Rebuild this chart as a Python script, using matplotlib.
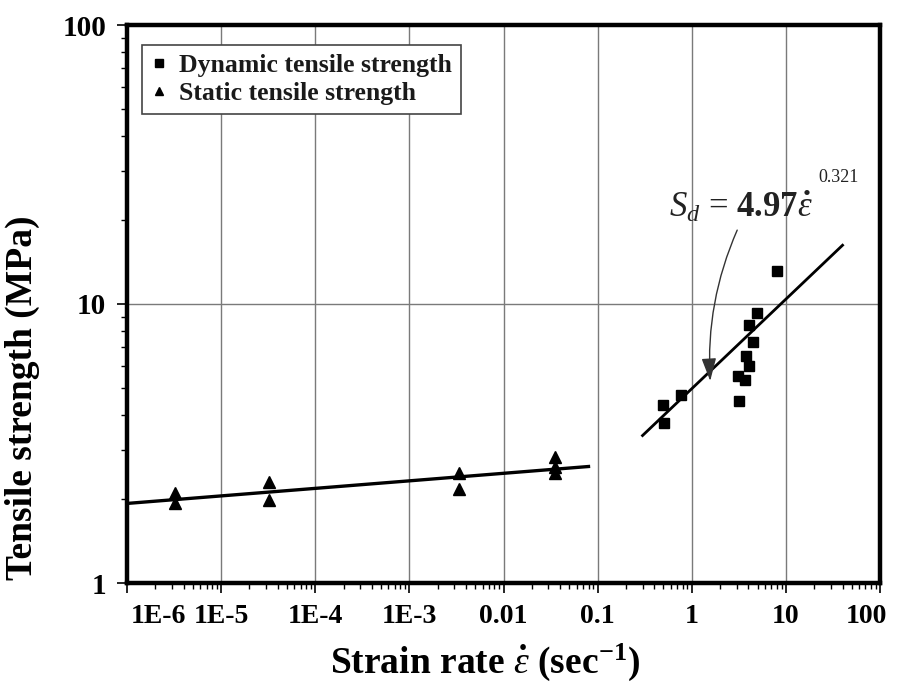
import numpy as np
import matplotlib
matplotlib.use("Agg")
import matplotlib.pyplot as plt
import matplotlib.transforms as mtransforms
from matplotlib.patches import FancyArrowPatch, ArrowStyle
from matplotlib.ticker import LogLocator, FixedLocator, FixedFormatter, NullFormatter

plt.rcParams['font.family'] = ['Liberation Serif', 'DejaVu Serif']
plt.rcParams['mathtext.fontset'] = 'custom'
plt.rcParams['mathtext.rm'] = 'Liberation Serif:bold'
plt.rcParams['mathtext.it'] = 'Liberation Serif:italic'
plt.rcParams['mathtext.bf'] = 'Liberation Serif:bold'

# Static tests (strain rate in 1/s, tensile strength in MPa)
static_rate = [3.2e-6, 3.2e-6, 3.2e-5, 3.2e-5, 3.4e-3, 3.4e-3, 0.035, 0.035, 0.035]
static_strength = [2.10, 1.93, 2.31, 1.98, 2.47, 2.17, 2.83, 2.61, 2.47]

# Dynamic tests
dynamic_rate = [8.0, 4.9, 4.1, 4.5, 3.8, 4.1, 3.1, 3.7, 3.2, 0.77, 0.49, 0.51]
dynamic_strength = [13.1, 9.3, 8.4, 7.3, 6.5, 6.0, 5.5, 5.35, 4.5, 4.7, 4.35, 3.75]

# Power-law fits S = a * rate^b
static_fit = (2.80, 0.027)
static_fit_range = (1e-6, 0.08)
dynamic_fit = (4.97, 0.321)
dynamic_fit_range = (0.3, 40.0)

x_ticks = [1e-6, 1e-5, 1e-4, 1e-3, 1e-2, 1e-1, 1, 10, 100]
x_tick_labels = ["1E-6", "1E-5", "1E-4", "1E-3", "0.01", "0.1", "1", "10", "100"]
y_ticks = [1, 10, 100]
y_tick_labels = ["1", "10", "100"]

W, H = 913, 691
fig = plt.figure(figsize=(W / 100, H / 100), dpi=100)
ax = fig.add_axes([127 / W, 1 - 583 / H, 753 / W, 558 / H])
ax.set_xscale('log')
ax.set_yscale('log')
ax.set_xlim(1e-6, 100)
ax.set_ylim(1, 100)

ax.grid(True, which='major', color='#7a7a7a', lw=1.0)
ax.set_axisbelow(True)

ax.xaxis.set_major_locator(FixedLocator(x_ticks))
ax.xaxis.set_major_formatter(FixedFormatter(x_tick_labels))
ax.yaxis.set_major_locator(FixedLocator(y_ticks))
ax.yaxis.set_major_formatter(FixedFormatter(y_tick_labels))
ax.xaxis.set_minor_locator(LogLocator(base=10, subs=np.arange(2, 10), numticks=20))
ax.yaxis.set_minor_locator(LogLocator(base=10, subs=np.arange(2, 10), numticks=20))
ax.xaxis.set_minor_formatter(NullFormatter())
ax.yaxis.set_minor_formatter(NullFormatter())
ax.tick_params(which='major', direction='out', length=7, width=1.2, labelsize=20, pad=8)
ax.tick_params(axis='y', which='major', labelsize=21, pad=8)
ax.tick_params(which='minor', direction='out', length=4, width=1.0)
for lab in ax.get_xticklabels() + ax.get_yticklabels():
    lab.set_fontweight('bold')
for sp in ax.spines.values():
    sp.set_linewidth(3.2)
    sp.set_color('black')

# Pull the end labels of the x axis inward
xticks = ax.xaxis.get_major_ticks()
first, last = xticks[0].label1, xticks[-1].label1
first.set_transform(first.get_transform() +
                    mtransforms.ScaledTranslation(31 / 100, 0, fig.dpi_scale_trans))
last.set_transform(last.get_transform() +
                   mtransforms.ScaledTranslation(-14 / 100, 0, fig.dpi_scale_trans))

# Fit lines
xs = np.logspace(np.log10(static_fit_range[0]), np.log10(static_fit_range[1]), 50)
ax.plot(xs, static_fit[0] * xs ** static_fit[1], color='black', lw=2.4, zorder=3)
xd = np.logspace(np.log10(dynamic_fit_range[0]), np.log10(dynamic_fit_range[1]), 50)
ax.plot(xd, dynamic_fit[0] * xd ** dynamic_fit[1], color='black', lw=2.0, zorder=3)

# Data points
ax.plot(dynamic_rate, dynamic_strength, 's', color='black', ms=7, zorder=4,
        label='Dynamic tensile strength')
ax.plot(static_rate, static_strength, '^', color='black', ms=8, zorder=4,
        label='Static tensile strength')

leg = ax.legend(loc='upper left', bbox_to_anchor=(0.02, 0.965), frameon=True,
                fancybox=False, edgecolor='#444444', framealpha=1,
                prop={'family': 'Liberation Serif', 'size': 18.5, 'weight': 'bold'},
                handlelength=0.6, handletextpad=0.5, borderpad=0.35,
                labelspacing=0.22, markerscale=0.75, borderaxespad=0)
leg.get_frame().set_linewidth(1.2)
for t in leg.get_texts():
    t.set_color('#1a1a1a')

# Equation and pointer to the dynamic fit line
ax.text(3.35, 22.3, r'$S_d$ = $\mathbf{4.97}\dot{\varepsilon}$', fontsize=25,
        ha='center', va='center', color='#222222')
ax.text(36.0, 28.5, '0.321', fontsize=13, ha='center', va='center', color='#222222')
arrow = FancyArrowPatch((3.04, 18.4), (1.57, 5.3),
                        connectionstyle='arc3,rad=0.12',
                        arrowstyle=ArrowStyle('-|>', head_length=14, head_width=4.5),
                        color='#333333', lw=1.0, shrinkA=0, shrinkB=0, zorder=5)
ax.add_patch(arrow)

fig.text(22 / W, 1 - 398 / H, 'Tensile strength (MPa)', rotation=90, ha='center',
         va='center', fontsize=27, fontweight='bold')
fig.text(485 / W, 1 - 662 / H, r'Strain rate $\dot{\varepsilon}$ (sec$^{-1}$)',
         ha='center', va='center', fontsize=27, fontweight='bold')

fig.savefig('out.png', dpi=100)
